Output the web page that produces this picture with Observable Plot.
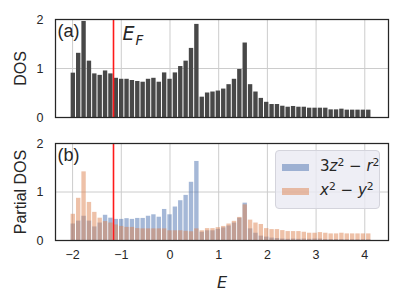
<!DOCTYPE html>
<html>
<head>
<meta charset="utf-8">
<script src="https://cdn.jsdelivr.net/npm/d3@7"></script>
<script src="https://cdn.jsdelivr.net/npm/@observablehq/plot@0.6"></script>
<style>
  html, body { margin: 0; padding: 0; background: white; }
  #wrap { position: relative; width: 400px; height: 300px; overflow: hidden; }
  #wrap svg { display: block; }
  [aria-label="y-axis label"] text { font-size: 16px; }
  [aria-label="x-axis label"] text { font-size: 16px; font-style: italic; font-family: "DejaVu Sans", sans-serif; }
  #legend { position: absolute; left: 275px; top: 150px; width: 103px; height: 57px;
    border: 1px solid #d4d4dc; border-radius: 4px; background: rgba(234,234,242,0.8);
    font-family: "DejaVu Sans", sans-serif; font-size: 15px; color: #262626; }
  .sw { position: absolute; left: 6px; width: 27px; height: 7px; }
  .lt { position: absolute; left: 44px; white-space: nowrap; line-height: 1; }
  .lt sup { font-size: 72%; line-height: 0; vertical-align: 0.45em; }
</style>
</head>
<body>
<div id="wrap"></div>
<script>
// Histogram bins (energy)
const binStart = -2.04;
const binWidth = 0.1103;
// Total DOS, panel (a)
const dosTotal = [0.905, 1.31, 1.96, 1.15, 0.89, 0.86, 0.95, 0.89, 0.80, 0.78,
  0.78, 0.755, 0.735, 0.72, 0.78, 0.80, 0.72, 0.91, 0.78, 0.91,
  1.04, 1.15, 1.41, 1.90, 0.415, 0.50, 0.52, 0.54, 0.58, 0.67,
  0.78, 0.98, 1.52, 0.67, 0.52, 0.39, 0.31, 0.265, 0.265, 0.23,
  0.21, 0.225, 0.21, 0.21, 0.19, 0.19, 0.19, 0.19, 0.156, 0.156,
  0.17, 0.15, 0.15, 0.15, 0.15, 0.15];
// Partial DOS 3z^2 - r^2, panel (b)
const pdosZ = [0.34, 0.40, 0.50, 0.40, 0.28, 0.36, 0.52, 0.46, 0.435, 0.435,
  0.45, 0.435, 0.455, 0.455, 0.50, 0.53, 0.48, 0.64, 0.53, 0.69,
  0.82, 0.93, 1.20, 1.63, 0.17, 0.20, 0.20, 0.23, 0.26, 0.30,
  0.36, 0.46, 0.77, 0.24, 0.15, 0.09, 0.07, 0.05, 0.04, 0.03,
  0.025, 0.03, 0.025, 0.03, 0.025, 0.03, 0.03, 0.02, 0.02, 0.02,
  0.02, 0.015, 0.015, 0.015, 0.015, 0.015];
// Partial DOS x^2 - y^2, panel (b)
const pdosX = [0.54, 0.87, 1.415, 0.785, 0.58, 0.46, 0.39, 0.36, 0.32, 0.29,
  0.27, 0.27, 0.245, 0.24, 0.24, 0.24, 0.24, 0.24, 0.20, 0.20,
  0.20, 0.19, 0.18, 0.24, 0.20, 0.245, 0.245, 0.265, 0.29, 0.34,
  0.395, 0.476, 0.735, 0.42, 0.36, 0.33, 0.245, 0.225, 0.225, 0.204,
  0.184, 0.184, 0.184, 0.17, 0.15, 0.15, 0.163, 0.15, 0.136, 0.136,
  0.15, 0.136, 0.136, 0.136, 0.136, 0.136];
const fermiEnergy = -1.16;
const xTicks = [-2, -1, 0, 1, 2, 3, 4];
const yTicks = [0, 1, 2];
const seriesNames = ["3z² − r²", "x² − y²"];
const seriesColors = ["#4c72b0", "#dd8452"];

const toRows = vals => vals.map((v, i) => ({x1: binStart + i * binWidth, x2: binStart + (i + 1) * binWidth, y: v}));

const xDomain = [-2.351, 4.487];
const common = {
  width: 400, marginLeft: 55, marginRight: 12,
  style: {fontFamily: "'Liberation Sans', Arial, sans-serif", fontSize: "12.5px", color: "#262626", background: "white"}
};
const grid = [
  Plot.ruleX(xTicks, {stroke: "#cccccc", strokeWidth: 1}),
  Plot.ruleY(yTicks, {stroke: "#cccccc", strokeWidth: 1})
];

const plotA = Plot.plot({
  ...common, height: 126, marginTop: 19, marginBottom: 9,
  x: {domain: xDomain, axis: null},
  y: {domain: [0, 2], ticks: yTicks, tickFormat: "d", tickSize: 0, tickPadding: 12, label: "DOS", labelAnchor: "center", labelArrow: "none", labelOffset: 41},
  marks: [
    ...grid,
    Plot.rect(toRows(dosTotal), {x1: "x1", x2: "x2", y1: 0, y2: "y", fill: "#484848", insetLeft: 0.5, insetRight: 0.5}),
    Plot.ruleX([fermiEnergy], {stroke: "#ff1a1a", strokeWidth: 1.6}),
    Plot.text(["(a)"], {frameAnchor: "top-left", text: d => d, textAnchor: "start", lineAnchor: "top", dx: 2, dy: 5, fontSize: 18, fill: "#262626"}),
    Plot.text([fermiEnergy], {x: d => d, text: () => "E", frameAnchor: "top", textAnchor: "start", lineAnchor: "top", dx: 9, dy: 7, fontSize: 19, fontStyle: "italic", fontFamily: "DejaVu Sans", fill: "#262626"}),
    Plot.text([fermiEnergy], {x: d => d, text: () => "F", frameAnchor: "top", textAnchor: "start", lineAnchor: "top", dx: 22, dy: 16, fontSize: 13.5, fontStyle: "italic", fontFamily: "DejaVu Sans", fill: "#262626"}),
    Plot.frame({stroke: "#262626", strokeWidth: 1.25})
  ]
});

const plotB = Plot.plot({
  ...common, height: 174, marginTop: 17, marginBottom: 60,
  x: {domain: xDomain, ticks: xTicks, tickFormat: "d", tickSize: 0, tickPadding: 10, label: "E", labelAnchor: "center", labelArrow: "none", labelOffset: 47},
  y: {domain: [0, 2], ticks: yTicks, tickFormat: "d", tickSize: 0, tickPadding: 12, label: "Partial DOS", labelAnchor: "center", labelArrow: "none", labelOffset: 41},
  marks: [
    ...grid,
    Plot.rect(toRows(pdosZ), {x1: "x1", x2: "x2", y1: 0, y2: "y", fill: seriesColors[0], fillOpacity: 0.5, insetLeft: 0.5, insetRight: 0.5}),
    Plot.rect(toRows(pdosX), {x1: "x1", x2: "x2", y1: 0, y2: "y", fill: seriesColors[1], fillOpacity: 0.5, insetLeft: 0.5, insetRight: 0.5}),
    Plot.ruleX([fermiEnergy], {stroke: "#ff1a1a", strokeWidth: 1.6}),
    Plot.text(["(b)"], {frameAnchor: "top-left", text: d => d, textAnchor: "start", lineAnchor: "top", dx: 2, dy: 5, fontSize: 18, fill: "#262626"}),
    Plot.frame({stroke: "#262626", strokeWidth: 1.25})
  ]
});

const wrap = document.getElementById("wrap");
wrap.appendChild(plotA);
wrap.appendChild(plotB);

// Legend
const legend = document.createElement("div");
legend.id = "legend";
const fmt = s => s.replace(/([a-z])/g, "<i>$1</i>").replace(/²/g, "<sup>2</sup>");
seriesNames.forEach((name, i) => {
  const sw = document.createElement("div");
  sw.className = "sw";
  sw.style.top = (13 + i * 24) + "px";
  sw.style.background = seriesColors[i];
  sw.style.opacity = 0.5;
  legend.appendChild(sw);
  const lt = document.createElement("div");
  lt.className = "lt";
  lt.style.top = (8 + i * 24) + "px";
  lt.innerHTML = fmt(name);
  legend.appendChild(lt);
});
wrap.appendChild(legend);
</script>
</body>
</html>
